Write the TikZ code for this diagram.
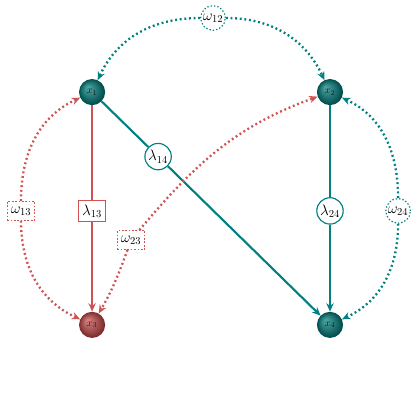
\documentclass[tikz,border=0pt]{standalone}
\usetikzlibrary{arrows.meta,calc}
\definecolor{tl}{RGB}{0,128,128}
\definecolor{rd}{RGB}{208,82,82}
\definecolor{tlD}{RGB}{0,78,78}
\definecolor{tlL}{RGB}{75,165,162}
\definecolor{rdD}{RGB}{125,45,45}
\definecolor{rdL}{RGB}{215,128,128}
\newcommand\drawmyball[3]{%
  \foreach \i in {0,...,16} {%
    \pgfmathsetmacro\pp{100*\i/16}%
    \pgfmathsetmacro\ff{\i/16}%
    \fill[#2!\pp!#3] ($(#1)+(-0.13*\ff,0.13*\ff)$) circle ({0.435*(1-0.88*\ff)});
  }}
\begin{document}
\begin{tikzpicture}[
  var/.style={circle, minimum size=0.87cm, inner sep=0pt},
  vtxt/.style={inner sep=0pt, text=black!90, font=\normalsize},
  lab/.style={draw, fill=white, line width=1.1pt, inner sep=1pt, font=\Large},
  tlab/.style={lab, circle, draw=tl, minimum size=0.85cm},
  rlab/.style={lab, rectangle, draw=rd, minimum width=0.9cm, minimum height=0.7cm},
  tcov/.style={circle, draw=tl, fill=white, line width=1.1pt, dash pattern=on 1.3pt off 1.9pt, minimum size=0.82cm, inner sep=0.5pt, font=\Large},
  rcov/.style={rectangle, draw=rd, fill=white, line width=1.1pt, dash pattern=on 1.6pt off 1.6pt, minimum width=0.92cm, minimum height=0.62cm, inner sep=0.5pt, font=\Large},
  reg/.style={line width=2pt, -{Stealth[length=8pt,width=7pt]}},
  cov/.style={line width=2.2pt, dash pattern=on 1.8pt off 2.6pt, -{Stealth[length=8pt,width=7pt]}},
  plain/.style={line width=2pt}
]
\useasboundingbox (0,0) rectangle (14,14);
\node[var] (x1) at (3.07,10.93) {};
\node[var] (x2) at (11.0,10.93) {};
\node[var] (x3) at (3.07,3.17) {};
\node[var] (x4) at (11.0,3.17) {};
\drawmyball{x1}{tlL}{tlD}
\drawmyball{x2}{tlL}{tlD}
\drawmyball{x3}{rdL}{rdD}
\drawmyball{x4}{tlL}{tlD}

\node[rlab] (l13) at (3.07,6.97) {$\lambda_{13}$};
\node[tlab] (l14) at (5.27,8.78) {$\lambda_{14}$};
\node[tlab] (l24) at (11.0,6.97) {$\lambda_{24}$};

\node[tcov] (w12) at (7.1,13.4) {$\omega_{12}$};
\node[rcov] (w13) at (0.70,6.97) {$\omega_{13}$};
\node[tcov] (w24) at (13.27,6.97) {$\omega_{24}$};
\node[rcov] (w23) at (4.37,6.0) {$\omega_{23}$};

\draw[plain, rd] (x1) -- (l13);
\draw[reg, rd] (l13) -- (x3);
\draw[plain, tl] (x1) -- (l14);
\draw[reg, tl] (l14) -- (x4);
\draw[plain, tl] (x2) -- (l24);
\draw[reg, tl] (l24) -- (x4);

\draw[cov, tl] (w12) to[out=180,in=65] (x1);
\draw[cov, tl] (w12) to[out=0,in=115] (x2);
\draw[cov, rd] (w13) to[out=90,in=205] (x1);
\draw[cov, rd] (w13) to[out=-90,in=155] (x3);
\draw[cov, tl] (w24) to[out=90,in=-25] (x2);
\draw[cov, tl] (w24) to[out=-90,in=25] (x4);
\draw[cov, rd] (w23) to[out=50,in=200] (x2);
\draw[cov, rd] (w23) to[out=-110,in=60] (x3);

\node[vtxt] (t1) at (x1) {$x_1$};
\node[vtxt] (t2) at (x2) {$x_2$};
\node[vtxt] (t3) at (x3) {$x_3$};
\node[vtxt] (t4) at (x4) {$x_4$};
\end{tikzpicture}
\end{document}
